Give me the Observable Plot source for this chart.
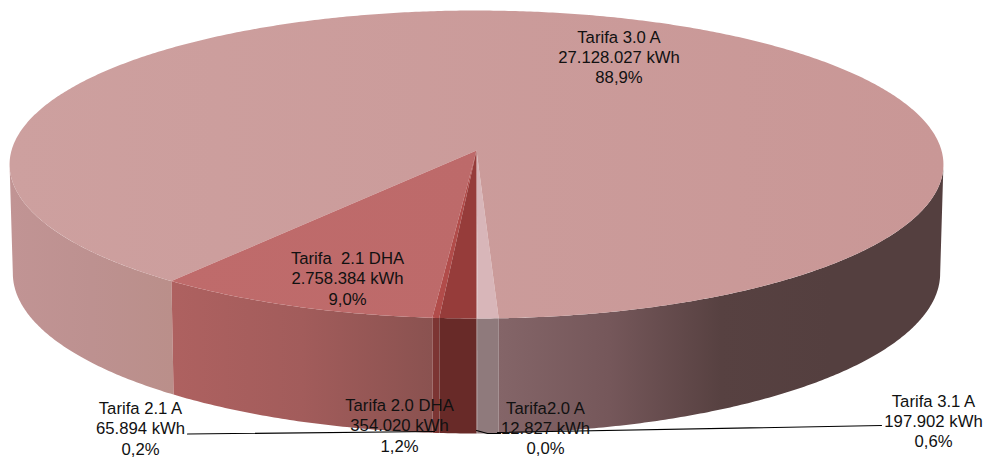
<!DOCTYPE html>
<html>
<head>
<meta charset="utf-8">
<style>
  html, body { margin: 0; padding: 0; background: #fff; }
  svg { display: block; }
</style>
<script src="https://cdn.jsdelivr.net/npm/d3@7"></script>
<script src="https://cdn.jsdelivr.net/npm/@observablehq/plot@0.6"></script>
</head>
<body>
<div id="chart"></div>
<script>
// Consumption per tariff, in the order the slices run round the disc.
const tariffs = ["Tarifa2.0 A", "Tarifa 3.1 A", "Tarifa 3.0 A", "Tarifa\u00a0 2.1 DHA", "Tarifa 2.1 A", "Tarifa 2.0 DHA"];
const kwh = [12827, 197902, 27128027, 2758384, 65894, 354020];

// Face colours: one fill for the top of each slice, gradient stops for its rim.
const topStops = [
  ["#d8b6b9", "#d8b6b9"],
  ["#d8b6b9", "#d8b6b9"],
  ["#cda09f", "#c99796"],
  ["#bf6b6b", "#bd6a6a"],
  ["#b14c4a", "#b14c4a"],
  ["#963c3a", "#963c3a"]
];
const rimStops = [
  [["#8f7a7c", "#8f7a7c"]],
  [["#8f7a7c", "#8f7a7c"]],
  [["#846568", "#75575a", "#574141", "#543f3f", "#543f3f"], ["#c19494", "#bd9190", "#ba8f8a"]],
  [["#ae6160", "#a25c5b", "#8a5250"]],
  [["#7c3533", "#7c3533"]],
  [["#682a28", "#682a28"]]
];

// Label text and where each block sits on the page, with its leader line.
const labelCentres = [[545, 427], [933, 420], [618.5, 56], [347, 277.5], [140, 427.5], [399, 424.5]];
const leaderPaths = [
  [[476, 430], [487, 433], [500, 433]],
  [[881, 425], [497, 432]],
  [],
  [],
  [[187, 433.5], [434, 431]],
  []
];

const esES = d3.formatLocale({decimal: ",", thousands: ".", grouping: [3], currency: ["", " €"]});
const formatKwh = esES.format(",d");
const formatShare = esES.format(".1%");

const W = 985, H = 457;
const total = d3.sum(kwh);

// Perspective model of the disc: unit circle seen at a tilt, apex at the origin.
const tilt = 0.0909;
const apexX = 476, apexY = 150, scaleX = 465, scaleY = 152.7;
const x = {domain: [-apexX / scaleX, (W - apexX) / scaleX], range: [0, W]};
const y = {domain: [-apexY / scaleY, (H - apexY) / scaleY], range: [0, H]};
const toX = (px) => (px - apexX) / scaleX;
const toY = (py) => (py - apexY) / scaleY;

const rad = Math.PI / 180;
const topRim = (deg) => {
  const u = Math.sin(deg * rad), v = Math.cos(deg * rad), d = 1 - tilt * v;
  return {x: u / d, y: v / d};
};
// The lower rim is a touch narrower and dropped below the upper one.
const bottomRim = (deg) => {
  const p = topRim(deg);
  return {x: p.x * 0.993, y: 108.3 / scaleY + p.y * 1.04};
};
const arc = (a, b, rim) => {
  const n = Math.max(2, Math.ceil(Math.abs(b - a) / 0.5));
  return d3.range(n + 1).map((i) => rim(a + (b - a) * i / n));
};

// Cumulative angles for each slice, from the front of the disc.
let running = 0;
const slices = kwh.map((value, i) => {
  const start = running;
  running += value / total * 360;
  return {i, start, end: running};
});

// Only the front half of the rim can be seen.
const horizon = Math.acos(tilt) / rad;
const rimPieces = (s) => {
  const pieces = [];
  const right = [Math.max(s.start, 0), Math.min(s.end, horizon)];
  const left = [Math.max(s.start, 360 - horizon), Math.min(s.end, 360)];
  if (right[1] > right[0]) pieces.push(right);
  if (left[1] > left[0]) pieces.push(left);
  return pieces;
};

// Horizontal gradients shared by the faces.
const gradientDefs = () => {
  const defs = d3.create("svg:defs");
  const add = (id, stops) => {
    const g = defs.append("linearGradient").attr("id", id)
      .attr("x1", 0).attr("x2", 1).attr("y1", 0).attr("y2", 0);
    stops.forEach((c, k) => g.append("stop")
      .attr("offset", k / (stops.length - 1)).attr("stop-color", c));
  };
  topStops.forEach((stops, i) => add(`top${i}`, stops));
  rimStops.forEach((list, i) => list.forEach((stops, j) => add(`rim${i}-${j}`, stops)));
  return defs.node();
};

const rimMarks = slices.flatMap((s) => rimPieces(s).map(([a, b], j) => {
  const ring = [...arc(a, b, topRim), ...arc(b, a, bottomRim)];
  const closed = [...ring, ring[0]];
  return Plot.line(closed, {x: "x", y: "y", fill: `url(#rim${s.i}-${j})`, stroke: "none"});
}));

const topMarks = slices.map((s) => {
  const wedge = [{x: 0, y: 0}, ...arc(s.start, s.end, topRim), {x: 0, y: 0}];
  return Plot.line(wedge, {x: "x", y: "y", fill: `url(#top${s.i})`, stroke: "none"});
});

const leaderMarks = leaderPaths.filter((p) => p.length).map((p) =>
  Plot.line(p.map(([px, py]) => ({x: toX(px), y: toY(py)})),
    {x: "x", y: "y", stroke: "#000", strokeWidth: 1.1})
);

const labels = tariffs.map((name, i) => ({
  x: toX(labelCentres[i][0]),
  y: toY(labelCentres[i][1]),
  text: `${name}\n${formatKwh(kwh[i])} kWh\n${formatShare(kwh[i] / total)}`
}));

const chart = Plot.plot({
  width: W,
  height: H,
  margin: 0,
  x: {...x, axis: null},
  y: {...y, axis: null},
  style: {background: "#fff"},
  marks: [
    gradientDefs,
    ...rimMarks,
    ...topMarks,
    ...leaderMarks,
    Plot.text(labels, {
      x: "x", y: "y", text: "text",
      fontFamily: "Liberation Sans",
      fontSize: 16.7,
      lineHeight: 1.21,
      fill: "#111",
      textAnchor: "middle",
      lineAnchor: "middle"
    })
  ]
});
document.getElementById("chart").append(chart);
</script>
</body>
</html>
